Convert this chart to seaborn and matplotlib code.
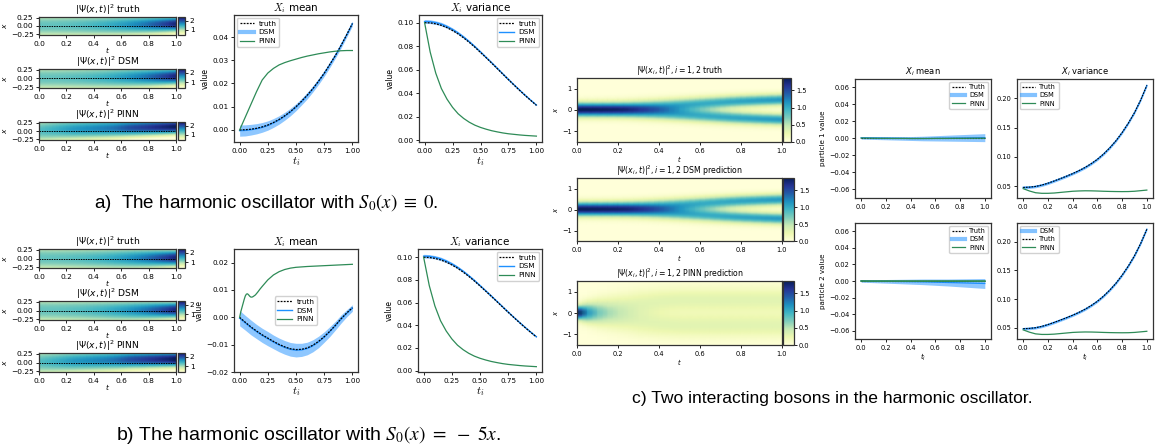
import numpy as np
import matplotlib
matplotlib.use("Agg")
import matplotlib.pyplot as plt
from matplotlib.lines import Line2D
import seaborn as sns

W, H = 1157, 448

# ---------------- data ----------------
t_nodes = [0.00, 0.05, 0.10, 0.15, 0.20, 0.25, 0.30, 0.35, 0.40, 0.45, 0.50,
           0.55, 0.60, 0.65, 0.70, 0.75, 0.80, 0.85, 0.90, 0.95, 1.00]

# a) S0 = 0
a_true_mean = [0.0000, 0.0001, 0.0003, 0.0007, 0.0013, 0.0021, 0.0032, 0.0045, 0.0061, 0.0079, 0.0100,
               0.0124, 0.0150, 0.0178, 0.0210, 0.0244, 0.0282, 0.0321, 0.0364, 0.0410, 0.0458]
a_dsm_mean = [-0.0003, -0.0002, 0.0001, 0.0005, 0.0011, 0.0019, 0.0030, 0.0043, 0.0059, 0.0077, 0.0098,
              0.0122, 0.0148, 0.0177, 0.0209, 0.0243, 0.0281, 0.0321, 0.0364, 0.0410, 0.0458]
a_dsm_mean_hw = [0.0024, 0.0024, 0.0023, 0.0022, 0.0021, 0.0020, 0.0019, 0.0018, 0.0017, 0.0016, 0.0015,
                 0.0014, 0.0014, 0.0013, 0.0013, 0.0012, 0.0012, 0.0011, 0.0011, 0.0010, 0.0010]
a_pinn_mean = [0.0000, 0.0055, 0.0110, 0.0165, 0.0215, 0.0245, 0.0265, 0.0280, 0.0290, 0.0298, 0.0305,
               0.0312, 0.0318, 0.0323, 0.0328, 0.0332, 0.0336, 0.0339, 0.0341, 0.0342, 0.0342]
a_true_var = [0.1000, 0.0998, 0.0990, 0.0977, 0.0958, 0.0933, 0.0904, 0.0870, 0.0832, 0.0791, 0.0747,
              0.0702, 0.0656, 0.0609, 0.0562, 0.0515, 0.0469, 0.0424, 0.0380, 0.0338, 0.0297]
a_dsm_var = [0.1010, 0.1008, 0.1000, 0.0987, 0.0967, 0.0942, 0.0912, 0.0877, 0.0838, 0.0796, 0.0751,
             0.0705, 0.0659, 0.0612, 0.0564, 0.0517, 0.0471, 0.0426, 0.0382, 0.0340, 0.0299]
a_dsm_var_hw = [0.0016, 0.0016, 0.0015, 0.0015, 0.0014, 0.0013, 0.0012, 0.0011, 0.0010, 0.0010, 0.0009,
                0.0008, 0.0008, 0.0007, 0.0007, 0.0007, 0.0006, 0.0006, 0.0006, 0.0005, 0.0005]
a_pinn_var = [0.1000, 0.0750, 0.0570, 0.0440, 0.0350, 0.0280, 0.0225, 0.0185, 0.0153, 0.0128, 0.0109,
              0.0094, 0.0081, 0.0071, 0.0062, 0.0055, 0.0050, 0.0045, 0.0041, 0.0038, 0.0035]
a_pinn_hm_center = [0.00, 0.01, 0.02, 0.03, 0.035, 0.04, 0.045, 0.05, 0.055, 0.06, 0.065,
                    0.07, 0.075, 0.08, 0.085, 0.09, 0.095, 0.10, 0.105, 0.11, 0.115]
a_pinn_hm_width = [0.30, 0.29, 0.28, 0.27, 0.26, 0.25, 0.245, 0.24, 0.235, 0.23, 0.225,
                   0.22, 0.21, 0.20, 0.195, 0.19, 0.185, 0.18, 0.175, 0.17, 0.165]

# b) S0 = -5x
b_true_mean = [0.0000, -0.0018, -0.0035, -0.0050, -0.0064, -0.0076, -0.0088, -0.0099, -0.0108, -0.0115, -0.0118,
               -0.0117, -0.0112, -0.0102, -0.0088, -0.0071, -0.0051, -0.0029, -0.0005, 0.0016, 0.0035]
b_dsm_mean = [-0.0003, -0.0020, -0.0037, -0.0052, -0.0066, -0.0078, -0.0090, -0.0101, -0.0110, -0.0117, -0.0120,
              -0.0119, -0.0114, -0.0104, -0.0090, -0.0072, -0.0052, -0.0030, -0.0006, 0.0015, 0.0034]
b_dsm_mean_hw = [0.0028, 0.0027, 0.0027, 0.0026, 0.0026, 0.0026, 0.0025, 0.0025, 0.0025, 0.0025, 0.0025,
                 0.0024, 0.0023, 0.0022, 0.0021, 0.0019, 0.0018, 0.0016, 0.0015, 0.0013, 0.0012]
t_pinn_b = [0.00, 0.01, 0.02, 0.03, 0.04, 0.05, 0.06, 0.07, 0.08, 0.09, 0.10, 0.11, 0.12, 0.14,
            0.16, 0.18, 0.20, 0.25, 0.30, 0.35, 0.40, 0.45, 0.50, 0.60, 0.70, 0.80, 0.90, 1.00]
b_pinn_mean = [0.0000, 0.0020, 0.0035, 0.0050, 0.0065, 0.0078, 0.0085, 0.0086, 0.0082, 0.0077, 0.0074, 0.0074, 0.0076, 0.0082,
               0.0092, 0.0103, 0.0113, 0.0137, 0.0155, 0.0167, 0.0175, 0.0180, 0.0183, 0.0186, 0.0188, 0.0190, 0.0192, 0.0194]
b_pinn_hm_center = [0.00, 0.005, 0.01, 0.015, 0.02, 0.025, 0.03, 0.035, 0.04, 0.045, 0.05,
                    0.055, 0.06, 0.065, 0.07, 0.07, 0.075, 0.075, 0.08, 0.08, 0.08]
b_pinn_hm_width = [0.30, 0.29, 0.28, 0.27, 0.26, 0.25, 0.245, 0.24, 0.235, 0.23, 0.225,
                   0.22, 0.21, 0.20, 0.195, 0.19, 0.185, 0.18, 0.175, 0.17, 0.16]

# c) two interacting bosons
c_true_mean = [0.0] * 21
c1_dsm_mean = [0.0008, 0.0007, 0.0006, 0.0005, 0.0004, 0.0003, 0.0002, 0.0001, 0.0000, 0.0000, 0.0000,
               0.0001, 0.0002, 0.0003, 0.0004, 0.0005, 0.0006, 0.0007, 0.0008, 0.0009, 0.0010]
c1_dsm_hw = [0.0015, 0.0016, 0.0017, 0.0018, 0.0019, 0.0020, 0.0021, 0.0022, 0.0023, 0.0025, 0.0027,
             0.0029, 0.0031, 0.0033, 0.0035, 0.0037, 0.0039, 0.0041, 0.0043, 0.0045, 0.0047]
c1_pinn_mean = [0.0005, 0.0004, 0.0003, 0.0002, 0.0002, 0.0001, 0.0001, 0.0001, 0.0000, 0.0000, 0.0000,
                0.0000, 0.0001, 0.0001, 0.0001, 0.0002, 0.0002, 0.0002, 0.0003, 0.0003, 0.0003]
c2_dsm_mean = [0.0000, -0.0001, -0.0002, -0.0003, -0.0004, -0.0005, -0.0006, -0.0007, -0.0008, -0.0009, -0.0010,
               -0.0012, -0.0014, -0.0016, -0.0018, -0.0020, -0.0022, -0.0024, -0.0026, -0.0028, -0.0030]
c2_dsm_hw = [0.0015, 0.0016, 0.0018, 0.0020, 0.0022, 0.0024, 0.0026, 0.0028, 0.0030, 0.0032, 0.0034,
             0.0036, 0.0038, 0.0040, 0.0042, 0.0045, 0.0048, 0.0051, 0.0054, 0.0057, 0.0060]
c2_pinn_mean = [0.0000, -0.0001, -0.0001, -0.0001, -0.0001, -0.0001, -0.0001, -0.0001, -0.0001, -0.0001, -0.0001,
                -0.0001, -0.0001, -0.0001, -0.0001, -0.0001, -0.0001, -0.0001, -0.0001, -0.0001, -0.0001]
c_true_var = [0.0480, 0.0485, 0.0497, 0.0520, 0.0552, 0.0590, 0.0630, 0.0672, 0.0716, 0.0765, 0.0820,
              0.0885, 0.0960, 0.1050, 0.1155, 0.1275, 0.1415, 0.1575, 0.1755, 0.1970, 0.2220]
c_dsm_var_hw = [0.0022, 0.0022, 0.0022, 0.0022, 0.0022, 0.0022, 0.0022, 0.0022, 0.0022, 0.0022, 0.0022,
                0.0022, 0.0022, 0.0022, 0.0022, 0.0022, 0.0022, 0.0022, 0.0022, 0.0022, 0.0022]
c_pinn_var = [0.0460, 0.0420, 0.0390, 0.0380, 0.0380, 0.0385, 0.0395, 0.0405, 0.0415, 0.0420, 0.0423,
              0.0422, 0.0419, 0.0415, 0.0412, 0.0410, 0.0409, 0.0410, 0.0415, 0.0425, 0.0435]
# heatmap parameters for c): half separation of the two lobes, lobe width, amplitude
c_true_sep = [0.00, 0.00, 0.00, 0.00, 0.02, 0.06, 0.10, 0.13, 0.16, 0.19, 0.22,
              0.25, 0.28, 0.31, 0.34, 0.37, 0.395, 0.415, 0.435, 0.45, 0.465]
c_true_width = [0.215, 0.216, 0.218, 0.22, 0.222, 0.222, 0.22, 0.218, 0.215, 0.212, 0.21,
                0.207, 0.204, 0.201, 0.198, 0.195, 0.192, 0.189, 0.186, 0.183, 0.18]
c_dsm_sep = [0.00, 0.00, 0.00, 0.00, 0.02, 0.05, 0.09, 0.12, 0.15, 0.18, 0.21,
             0.24, 0.27, 0.30, 0.33, 0.36, 0.385, 0.405, 0.425, 0.44, 0.455]
c_dsm_width = [0.215, 0.216, 0.218, 0.22, 0.222, 0.222, 0.22, 0.218, 0.216, 0.213, 0.211,
               0.208, 0.205, 0.202, 0.199, 0.196, 0.193, 0.19, 0.187, 0.184, 0.182]
c_pinn_sep = [0.00, 0.00, 0.05, 0.15, 0.25, 0.35, 0.45, 0.50, 0.55, 0.58, 0.60,
              0.60, 0.60, 0.60, 0.60, 0.60, 0.60, 0.60, 0.60, 0.60, 0.60]
c_pinn_width = [0.21, 0.30, 0.38, 0.42, 0.44, 0.44, 0.43, 0.42, 0.41, 0.40, 0.40,
                0.40, 0.40, 0.40, 0.40, 0.40, 0.40, 0.40, 0.40, 0.40, 0.40]
c_pinn_amp = [1.00, 0.85, 0.72, 0.65, 0.62, 0.60, 0.60, 0.60, 0.60, 0.60, 0.60,
              0.60, 0.60, 0.60, 0.60, 0.60, 0.60, 0.60, 0.60, 0.60, 0.60]

# ---------------- styling ----------------
C_DSM = "#1e90ff"
C_BAND = "#1e90ff"
C_PINN = "#2e8b57"
TRUTH_KW = dict(color="black", linestyle=(0, (1.5, 1.0)), linewidth=0.9)

fig = plt.figure(figsize=(W / 100, H / 100), dpi=100)


def rect(l, t, r, b):
    return [l / W, 1 - b / H, (r - l) / W, (b - t) / H]


def gauss(x, m, s):
    return np.exp(-(x - m) ** 2 / (2 * s ** 2)) / (np.sqrt(2 * np.pi) * s)


def style_ticks(ax, size):
    ax.tick_params(labelsize=size, length=2.5, width=0.6, pad=1.5)
    for sp in ax.spines.values():
        sp.set_visible(True)
        sp.set_linewidth(0.9)
        sp.set_color("#333333")


def heat(ax_rect, cb_rect, data, x_max, title, vmin, vmax, cbticks, xt, small, dotted):
    ax = fig.add_axes(rect(*ax_rect))
    cax = fig.add_axes(rect(*cb_rect))
    nr, nc = data.shape
    sns.heatmap(data, ax=ax, cbar_ax=cax, cmap="YlGnBu", vmin=vmin, vmax=vmax,
                xticklabels=False, yticklabels=False, shading="gouraud")
    ax.set_xlim(0, nc - 1)
    ax.set_ylim(nr - 1, 0)
    fs = 4.8 if small else 5.4
    ax.set_xticks([v * (nc - 1) for v in [0, 0.2, 0.4, 0.6, 0.8, 1.0]])
    ax.set_xticklabels(["0.0", "0.2", "0.4", "0.6", "0.8", "1.0"], rotation=0)
    ax.set_yticks([(x_max - v) / (2 * x_max) * (nr - 1) for v in xt])
    ax.set_yticklabels([("−" if v < 0 else "") + (f"{abs(v):.2f}" if not small else f"{abs(v):g}") for v in xt],
                       rotation=0)
    style_ticks(ax, fs)
    ax.set_title(title, fontsize=5.6 if small else 6.6, pad=1.2)
    ax.set_xlabel("$t$", fontsize=fs, labelpad=0 if small else -1.2)
    ax.set_ylabel("$x$", fontsize=fs, labelpad=1.5)
    if dotted:
        ax.axhline((nr - 1) / 2, **dict(TRUTH_KW, linewidth=0.7))
    cax.tick_params(labelsize=fs, length=2, width=0.6, pad=1.5)
    cax.set_yticks(cbticks)
    cax.set_yticklabels([f"{v:g}" if not small else f"{v:.1f}" for v in cbticks])
    cb = ax.collections[0].colorbar
    if cb is not None:
        cb.outline.set_linewidth(0.9)
        cb.outline.set_edgecolor("#333333")
    return ax


def band(ax, center, hw, alpha=0.5):
    c = np.array(center)
    h = np.array(hw)
    ax.fill_between(t_nodes, c - h, c + h, color=C_BAND, alpha=alpha, linewidth=0)


def legend(ax, handles, loc, fs):
    ax.legend(handles=handles, loc=loc, fontsize=fs, handlelength=2.0, borderpad=0.35,
              labelspacing=0.35, handletextpad=0.6, borderaxespad=0.4, framealpha=0.9,
              edgecolor="#cccccc", fancybox=True)


def h_truth(lbl="truth"):
    return Line2D([], [], label=lbl, **TRUTH_KW)


def h_dsm(thick, lbl="DSM"):
    if thick:
        return Line2D([], [], color=C_DSM, alpha=0.55, linewidth=3.0, label=lbl)
    return Line2D([], [], color=C_DSM, linewidth=1.0, label=lbl)


def h_pinn(lbl="PINN"):
    return Line2D([], [], color=C_PINN, linewidth=0.9, label=lbl)


def line_panel(ax_rect, title, ylim, yticks, yfmt, fs, titlefs, math, xlabel, ylabel):
    ax = fig.add_axes(rect(*ax_rect))
    ax.set_ylim(*ylim)
    ax.set_xlim(-0.05, 1.05)
    ax.set_yticks(yticks)
    ax.set_yticklabels([("−" if v < 0 else "") + yfmt.format(abs(v)) for v in yticks])
    style_ticks(ax, fs)
    ax.set_title(title, fontsize=titlefs, math_fontfamily=math, pad=3)
    if xlabel:
        ax.set_xlabel(xlabel, fontsize=titlefs + (0.5 if math == "cm" else -0.8), math_fontfamily=math, labelpad=1)
    if ylabel:
        ax.set_ylabel(ylabel, fontsize=fs + 0.3, labelpad=2)
    return ax


# ---------------- heatmaps a) / b) ----------------
x_ab = np.linspace(0.27, -0.27, 41)
x_c = np.linspace(1.5, -1.5, 61)


def gauss_field(xg, means, variances=None, widths=None):
    cols = []
    for i in range(len(t_nodes)):
        s = np.sqrt(variances[i]) if variances is not None else widths[i]
        cols.append(gauss(xg, means[i], s))
    return np.array(cols).T


a_truth_hm = gauss_field(x_ab, a_true_mean, variances=a_true_var)
a_dsm_hm = gauss_field(x_ab, a_dsm_mean, variances=a_dsm_var)
a_pinn_hm = gauss_field(x_ab, a_pinn_hm_center, widths=a_pinn_hm_width)
b_truth_hm = gauss_field(x_ab, b_true_mean, variances=a_true_var)
b_dsm_hm = gauss_field(x_ab, b_dsm_mean, variances=a_dsm_var)
b_pinn_hm = gauss_field(x_ab, b_pinn_hm_center, widths=b_pinn_hm_width)

vmin_ab, vmax_ab = a_truth_hm.min() * 0.9, a_truth_hm.max() * 1.05
xt_ab = [0.25, 0.0, -0.25]

titles_ab = [r"$|\Psi(x,t)|^2$ truth", r"$|\Psi(x,t)|^2$ DSM", r"$|\Psi(x,t)|^2$ PINN"]
tops_a = [(17, 35), (69, 88), (122, 140)]
tops_b = [(249, 268), (301, 320), (353, 372)]
for (tp, bt), d, ttl in zip(tops_a, [a_truth_hm, a_dsm_hm, a_pinn_hm], titles_ab):
    heat((39, tp, 176, bt), (178, tp, 185, bt), d, 0.27, ttl, vmin_ab, vmax_ab, [1, 2], xt_ab, False, True)
for (tp, bt), d, ttl in zip(tops_b, [b_truth_hm, b_dsm_hm, b_pinn_hm], titles_ab):
    heat((39, tp, 176, bt), (178, tp, 185, bt), d, 0.27, ttl, vmin_ab, vmax_ab, [1, 2], xt_ab, False, True)

# ---------------- line panels a) ----------------
ax = line_panel((234, 15, 358, 142), r"$X_i$ mean", (-0.0052, 0.0495), [0.0, 0.01, 0.02, 0.03, 0.04],
                "{:.2f}", 5.2, 7.5, "cm", "$t_i$", "value")
band(ax, a_dsm_mean, a_dsm_mean_hw)
sns.lineplot(x=t_nodes, y=a_dsm_mean, ax=ax, color=C_DSM, linewidth=1.0, legend=False)
sns.lineplot(x=t_nodes, y=a_true_mean, ax=ax, legend=False, **TRUTH_KW)
sns.lineplot(x=t_nodes, y=a_pinn_mean, ax=ax, color=C_PINN, linewidth=0.9, legend=False)
ax.set_xticks([0, 0.25, 0.5, 0.75, 1.0]); ax.set_xticklabels(["0.00", "0.25", "0.50", "0.75", "1.00"])
legend(ax, [h_truth(), h_dsm(True), h_pinn()], "upper left", 5.3)

ax = line_panel((419, 15, 542, 142), r"$X_i$ variance", (-0.0015, 0.1065), [0.0, 0.02, 0.04, 0.06, 0.08, 0.10],
                "{:.2f}", 5.2, 7.5, "cm", "$t_i$", "value")
band(ax, a_dsm_var, a_dsm_var_hw)
sns.lineplot(x=t_nodes, y=a_dsm_var, ax=ax, color=C_DSM, linewidth=1.0, legend=False)
sns.lineplot(x=t_nodes, y=a_true_var, ax=ax, legend=False, **TRUTH_KW)
sns.lineplot(x=t_nodes, y=a_pinn_var, ax=ax, color=C_PINN, linewidth=0.9, legend=False)
ax.set_xticks([0, 0.25, 0.5, 0.75, 1.0]); ax.set_xticklabels(["0.00", "0.25", "0.50", "0.75", "1.00"])
legend(ax, [h_truth(), h_dsm(False), h_pinn()], "upper right", 5.3)

# ---------------- line panels b) ----------------
ax = line_panel((234, 249, 358, 372), r"$X_i$ mean", (-0.02, 0.025), [-0.02, -0.01, 0.0, 0.01, 0.02],
                "{:.2f}", 5.2, 7.5, "cm", "$t_i$", "value")
band(ax, b_dsm_mean, b_dsm_mean_hw)
sns.lineplot(x=t_nodes, y=b_dsm_mean, ax=ax, color=C_DSM, linewidth=1.0, legend=False)
sns.lineplot(x=t_nodes, y=b_true_mean, ax=ax, legend=False, **TRUTH_KW)
sns.lineplot(x=t_pinn_b, y=b_pinn_mean, ax=ax, color=C_PINN, linewidth=0.9, legend=False)
ax.set_xticks([0, 0.25, 0.5, 0.75, 1.0]); ax.set_xticklabels(["0.00", "0.25", "0.50", "0.75", "1.00"])
ax.yaxis.set_label_coords(-0.245, 0.5)
legend(ax, [h_truth(), h_dsm(False), h_pinn()], "center", 5.3)

ax = line_panel((418, 249, 542, 372), r"$X_i$ variance", (-0.0012, 0.1073), [0.0, 0.02, 0.04, 0.06, 0.08, 0.10],
                "{:.2f}", 5.2, 7.5, "cm", "$t_i$", "value")
band(ax, a_dsm_var, a_dsm_var_hw)
sns.lineplot(x=t_nodes, y=a_dsm_var, ax=ax, color=C_DSM, linewidth=1.0, legend=False)
sns.lineplot(x=t_nodes, y=a_true_var, ax=ax, legend=False, **TRUTH_KW)
sns.lineplot(x=t_nodes, y=a_pinn_var, ax=ax, color=C_PINN, linewidth=0.9, legend=False)
ax.set_xticks([0, 0.25, 0.5, 0.75, 1.0]); ax.set_xticklabels(["0.00", "0.25", "0.50", "0.75", "1.00"])
legend(ax, [h_truth(), h_dsm(False), h_pinn()], "upper right", 5.3)

# ---------------- c) heatmaps ----------------


def lobes(sep, width, amp=None):
    cols = []
    for i in range(len(t_nodes)):
        a = 1.0 if amp is None else amp[i]
        cols.append(a * 0.5 * (gauss(x_c, sep[i], width[i]) + gauss(x_c, -sep[i], width[i])))
    return np.array(cols).T


c_truth_hm = lobes(c_true_sep, c_true_width)
c_dsm_hm = lobes(c_dsm_sep, c_dsm_width)
c_pinn_hm = lobes(c_pinn_sep, c_pinn_width, c_pinn_amp)
vmax_c = c_truth_hm.max()
titles_c = [r"$|\Psi(x_i,t)|^2, i=1,2$ truth", r"$|\Psi(x_i,t)|^2, i=1,2$ DSM prediction",
            r"$|\Psi(x_i,t)|^2, i=1,2$ PINN prediction"]
rows_c = [(78, 142, 791), (178, 241, 794), (281, 345, 794)]
for (tp, bt, cr), d, ttl in zip(rows_c, [c_truth_hm, c_dsm_hm, c_pinn_hm], titles_c):
    heat((577, tp, 782, bt), (783, tp, cr, bt), d, 1.5, ttl, 0.0, vmax_c, [0.0, 0.5, 1.0, 1.5],
         [1, 0, -1], True, False)

# ---------------- c) line panels ----------------
cmean_ticks = [-0.06, -0.04, -0.02, 0.0, 0.02, 0.04, 0.06]
cvar_ticks = [0.05, 0.10, 0.15, 0.20]
cx_ticks = [0, 0.2, 0.4, 0.6, 0.8, 1.0]

for row, (tp, bt, dm, dh, pm) in enumerate([(79, 198, c1_dsm_mean, c1_dsm_hw, c1_pinn_mean),
                                             (223, 339, c2_dsm_mean, c2_dsm_hw, c2_pinn_mean)]):
    xl = "$t_i$" if row == 1 else None
    ax = line_panel((855, tp, 991, bt), r"$X_i$ mean" if row == 0 else "", (-0.07, 0.07), cmean_ticks,
                    "{:.2f}", 4.8, 6.0, "dejavusans", xl, f"particle {row + 1} value")
    band(ax, dm, dh, alpha=0.5)
    sns.lineplot(x=t_nodes, y=dm, ax=ax, color=C_DSM, linewidth=0.9, legend=False)
    sns.lineplot(x=t_nodes, y=c_true_mean, ax=ax, legend=False, **dict(TRUTH_KW, linewidth=0.8))
    sns.lineplot(x=t_nodes, y=pm, ax=ax, color=C_PINN, linewidth=0.9 if row == 0 else 1.3, legend=False)
    ax.set_xticks(cx_ticks); ax.set_xticklabels([f"{v:.1f}" for v in cx_ticks])
    legend(ax, [h_truth("Truth"), h_dsm(True), h_pinn()], "upper right", 4.8)

    ax = line_panel((1017, tp, 1153, bt), r"$X_i$ variance" if row == 0 else "", (0.03, 0.233), cvar_ticks,
                    "{:.2f}", 4.8, 6.0, "dejavusans", xl, None)
    band(ax, c_true_var, c_dsm_var_hw, alpha=0.55)
    sns.lineplot(x=t_nodes, y=c_true_var, ax=ax, color=C_DSM, linewidth=1.0, legend=False)
    sns.lineplot(x=t_nodes, y=c_true_var, ax=ax, legend=False, **dict(TRUTH_KW, linewidth=0.8))
    sns.lineplot(x=t_nodes, y=c_pinn_var, ax=ax, color=C_PINN, linewidth=0.9, legend=False)
    ax.set_xticks(cx_ticks); ax.set_xticklabels([f"{v:.1f}" for v in cx_ticks])
    if row == 0:
        legend(ax, [h_truth("Truth"), h_dsm(True), h_pinn()], "upper left", 4.8)
    else:
        legend(ax, [h_dsm(True), h_truth("Truth"), h_pinn()], "upper left", 4.8)

# ---------------- captions ----------------
cap_kw = dict(ha="center", va="center", family="Liberation Sans", math_fontfamily="stix")
fig.text(266 / W, 1 - 203 / H, r"a)  The harmonic oscillator with $S_0(x)\ \equiv\ 0$.", fontsize=13.5, **cap_kw)
fig.text(308 / W, 1 - 435 / H, r"b) The harmonic oscillator with $S_0(x)\ =\ -\ 5x$.", fontsize=14, **cap_kw)
fig.text(832 / W, 1 - 398 / H, "c) Two interacting bosons in the harmonic oscillator.", fontsize=12.6, **cap_kw)

fig.savefig("out.png", dpi=100)
